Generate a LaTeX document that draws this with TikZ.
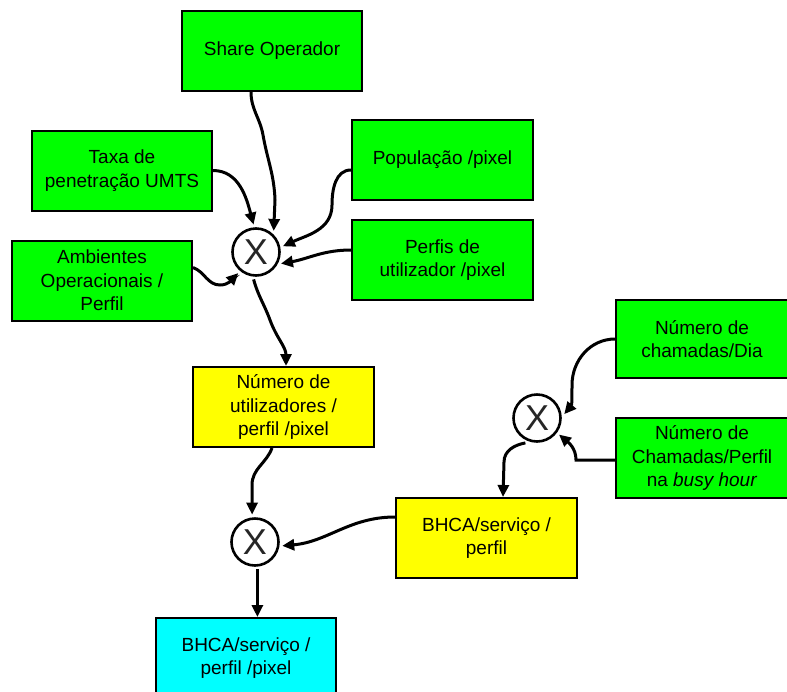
\documentclass[tikz,border=0pt]{standalone}
\usepackage{fontspec}
\setmainfont{Liberation Sans}
\usetikzlibrary{arrows.meta}
\definecolor{boxgreen}{RGB}{0,255,0}
\definecolor{boxyellow}{RGB}{255,255,0}
\definecolor{boxcyan}{RGB}{0,255,255}
\begin{document}
\begin{tikzpicture}[x=1pt,y=-1pt,
  box/.style={draw=black, line width=2pt, minimum width=180pt, minimum height=80pt,
    align=center, inner sep=2pt, font=\fontsize{19}{23.5}\selectfont},
  gbox/.style={box, fill=boxgreen},
  ybox/.style={box, fill=boxyellow},
  cbox/.style={box, fill=boxcyan},
  mult/.style={circle, draw=black, line width=2.6pt, fill=white, minimum size=47pt,
    inner sep=0pt, outer sep=4pt, font=\fontsize{36}{36}\selectfont, text=black!85},
  conn/.style={line width=3pt, -{Triangle[length=12pt,width=11pt]}}
]
\useasboundingbox (0,0) rectangle (787,691);
\clip (0,0) rectangle (787,691);
\fill[white] (0,0) rectangle (787,691);

% boxes
\node[gbox] (share) at (272,51) {Share Operador};
\node[gbox] (taxa) at (122,170.5) {Taxa de\\penetração UMTS};
\node[gbox, minimum width=181pt] (pop) at (442.5,160) {População /pixel};
\node[gbox, minimum width=181pt] (perfis) at (442.5,260) {Perfis de\\utilizador /pixel};
\node[gbox] (amb) at (102,280.5) {Ambientes\\Operacionais /\\Perfil};
\node[ybox, minimum width=181pt] (nutil) at (283.5,407) {Número de\\utilizadores /\\perfil /pixel};
\node[gbox, minimum width=172pt, minimum height=78pt] (dia) at (702,339) {Número de\\chamadas/Dia};
\node[gbox, minimum width=172pt] (cham) at (702,458) {Número de\\Chamadas/Perfil\\na \textit{busy hour}};
\node[ybox, minimum width=181pt] (bhca) at (486.5,538) {BHCA/serviço /\\perfil};
\node[cbox] (bhcapix) at (246,658) {BHCA/serviço /\\perfil /pixel};

% multipliers
\node[mult] (c1) at (256,252) {X};
\node[mult] (c2) at (537,418) {X};
\node[mult] (c3) at (255,542) {X};

% connectors
\draw[conn] ([xshift=-21pt]share.south) to[out=-90,in=100] (263,135) to[out=-80,in=92] (275,200) -- (c1.50);
\draw[conn] (taxa.east) to[out=0,in=105] (c1.95);
\draw[conn] ([yshift=-10pt]pop.west) to[out=180,in=90] (332,205) to[out=-90,in=25] (c1.12);
\draw[conn] ([yshift=10pt]perfis.west) to[out=180,in=10] (c1.-25);
\draw[conn] ([yshift=13pt]amb.east) to[out=-20,in=180] (220,285) to[out=0,in=-135] (c1.-130);
\draw[conn] (c1.-95) to[out=-75,in=110] (270,320) to[out=-70,in=90] ([xshift=2.5pt]nutil.north);
\draw[conn] ([xshift=-11.5pt]nutil.south) to[out=-110,in=90] (252,485) -- (c3.96);
\draw[conn] ([yshift=21pt]bhca.west) to[out=180,in=5] (c3.-8);
\draw[conn] (c3.-85) -- (c3.-85 |- bhcapix.north);
\draw[conn] (dia.west) to[out=180,in=90] (572,385) to[out=-90,in=50] (c2.8);
\draw[conn] ([yshift=-2pt]cham.west) -- (576,460) to[out=90,in=-40] (c2.-37);
\draw[conn] (c2.-115) to[out=-170,in=90] (504,462) -- ([xshift=16.5pt]bhca.north);
\end{tikzpicture}
\end{document}
